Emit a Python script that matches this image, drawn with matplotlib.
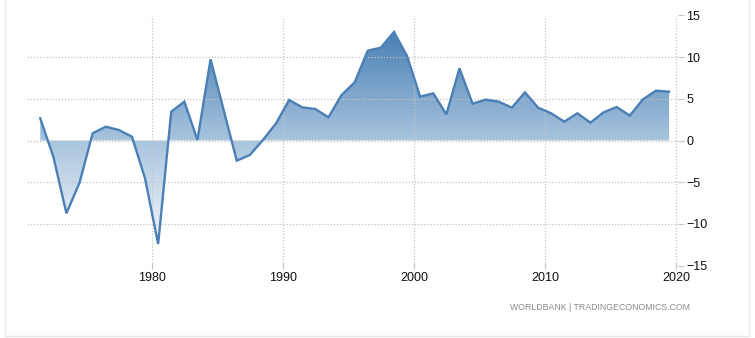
import numpy as np
import matplotlib
matplotlib.use('Agg')
import matplotlib.pyplot as plt
from matplotlib.colors import LinearSegmentedColormap

# annual values
years = list(range(1971, 2020))
values = [2.66, -1.94, -8.74, -5.06, 0.86, 1.66, 1.26, 0.46, -4.54, -12.42,
          3.46, 4.66, 0.06, 9.75, 3.66, -2.42, -1.74, 0.06, 2.06, 4.86,
          3.98, 3.78, 2.78, 5.46, 6.98, 10.78, 11.14, 13.03, 10.14, 5.26,
          5.66, 3.14, 8.66, 4.42, 4.90, 4.66, 3.94, 5.78, 3.94, 3.26,
          2.26, 3.26, 2.14, 3.38, 4.02, 2.98, 4.94, 5.98, 5.86]
xticks = [1980, 1990, 2000, 2010, 2020]
yticks = [-15, -10, -5, 0, 5, 10, 15]
source = 'WORLDBANK | TRADINGECONOMICS.COM'

LINE = '#4a80b6'
GRID = '#c4c4c4'

plt.rcParams['font.family'] = ['Liberation Sans', 'DejaVu Sans']

fig = plt.figure(figsize=(7.55, 3.38), dpi=100)
ax = fig.add_axes([27 / 755, 72.5 / 338, 651 / 755, 250 / 338])

x = np.array(years) + 0.45
y = np.array(values)

ax.set_xlim(1970.44, 2020.13)
ax.set_ylim(-15, 15)

# gradient fill clipped to the area between the line and zero
cmap = LinearSegmentedColormap.from_list(
    'te', [(0.0, '#ffffff'), (0.1, '#f2f6fb'), (0.5, '#a8c4de'),
           (0.93, '#4a80b4'), (1.0, '#3f78ae')])
grad = np.linspace(0, 1, 256).reshape(-1, 1)
poly = ax.fill_between(x, y, 0, color='none', lw=0)
img = ax.imshow(grad, cmap=cmap, aspect='auto', origin='lower',
                extent=[1970.44, 2020.13, -15, 15], zorder=1)
path = poly.get_paths()[0]
img.set_clip_path(path, transform=ax.transData)

ax.plot(x, y, color=LINE, lw=1.7, zorder=4, solid_joinstyle='miter')

ax.set_xticks(xticks)
ax.set_yticks(yticks)
ax.grid(True, color=GRID, ls=(0, (1, 1.5)), lw=0.9, zorder=2)
for gl in ax.get_xgridlines() + ax.get_ygridlines():
    gl.set_zorder(2)
for s in ax.spines.values():
    s.set_visible(False)
ax.yaxis.tick_right()
ax.tick_params(axis='y', length=4, width=0.8, color=GRID, pad=2,
               labelsize=9, labelcolor='#111111')
ax.tick_params(axis='x', length=4, width=0.8, color=GRID, pad=3,
               labelsize=9, labelcolor='#111111', direction='inout')

fig.text(690 / 755, 1 - 308 / 338, source, ha='right', va='center',
         fontsize=6.3, color='#8a8a8a')

# light frame around the chart (left, right and bottom edges)
fig.add_artist(plt.Line2D([4.5 / 755, 4.5 / 755, 748.5 / 755, 748.5 / 755],
                          [1, 2.5 / 338, 2.5 / 338, 1],
                          transform=fig.transFigure, color='#e8e8e8', lw=1.0))

fig.savefig('out.png', dpi=100)
